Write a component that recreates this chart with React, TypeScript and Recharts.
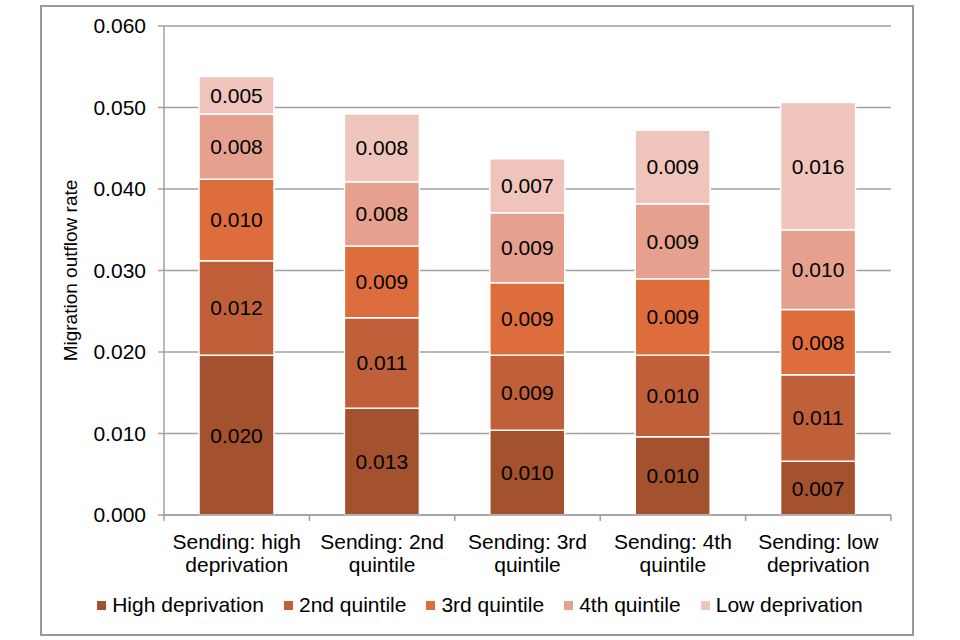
import React from 'react';
import {
  BarChart,
  Bar,
  XAxis,
  YAxis,
  CartesianGrid,
  Legend,
  LabelList,
} from 'recharts';

// categorías (eje X)
const CATEGORIES = [
  'Sending: high deprivation',
  'Sending: 2nd quintile',
  'Sending: 3rd quintile',
  'Sending: 4th quintile',
  'Sending: low deprivation',
];

// series, de abajo hacia arriba
const HIGH_DEPRIVATION = [0.0196, 0.0131, 0.0104, 0.0096, 0.0066];
const SECOND_QUINTILE = [0.0116, 0.0111, 0.0092, 0.01, 0.0106];
const THIRD_QUINTILE = [0.01, 0.0088, 0.0089, 0.0094, 0.008];
const FOURTH_QUINTILE = [0.008, 0.0079, 0.0086, 0.0092, 0.0098];
const LOW_DEPRIVATION = [0.0046, 0.0083, 0.0066, 0.009, 0.0156];

const Y_TICKS = [0, 0.01, 0.02, 0.03, 0.04, 0.05, 0.06];

const SERIES = [
  { key: 'high', name: 'High deprivation', values: HIGH_DEPRIVATION, color: '#A4512E' },
  { key: 'q2', name: '2nd quintile', values: SECOND_QUINTILE, color: '#C0603A' },
  { key: 'q3', name: '3rd quintile', values: THIRD_QUINTILE, color: '#DE6D3D' },
  { key: 'q4', name: '4th quintile', values: FOURTH_QUINTILE, color: '#E5A18E' },
  { key: 'low', name: 'Low deprivation', values: LOW_DEPRIVATION, color: '#EEC4BB' },
];

const data = CATEGORIES.map((name, i) => {
  const row: Record<string, string | number> = { name };
  SERIES.forEach((s) => {
    row[s.key] = s.values[i];
  });
  return row;
});

const W = 960;
const H = 640;
const MARGIN = { top: 26, right: 69, bottom: 20, left: 40 };
const Y_AXIS_W = 124;
const PLOT_W = W - MARGIN.left - MARGIN.right - Y_AXIS_W;
const BAND = PLOT_W / CATEGORIES.length;
const AXIS_COLOR = '#A0A0A0';
const FONT = 21;

// "Sending: high" / "deprivation"
const splitLabel = (s: string) => {
  const words = s.split(' ');
  return [words.slice(0, 2).join(' '), words.slice(2).join(' ')];
};

const CategoryTick = (props: any) => {
  const { x, y, payload, index } = props;
  const lines = splitLabel(String(payload.value));
  const half = BAND / 2;
  return (
    <g>
      <line x1={x - half} x2={x - half} y1={y} y2={y + 6} stroke={AXIS_COLOR} strokeWidth={1.5} />
      {index === CATEGORIES.length - 1 && (
        <line x1={x + half} x2={x + half} y1={y} y2={y + 6} stroke={AXIS_COLOR} strokeWidth={1.5} />
      )}
      <text x={x} y={y} textAnchor="middle" fontSize={FONT} fill="#000">
        {lines.map((l, i) => (
          <tspan key={i} x={x} dy={i === 0 ? 34 : 23}>
            {l}
          </tspan>
        ))}
      </text>
    </g>
  );
};

const LegendRow = () => (
  <div
    style={{
      height: 30,
      display: 'flex',
      justifyContent: 'center',
      alignItems: 'center',
      gap: 20,
      fontSize: FONT,
      color: '#000',
    }}
  >
    {SERIES.map((s) => (
      <span key={s.key} style={{ display: 'inline-flex', alignItems: 'center', gap: 6 }}>
        <span style={{ width: 9, height: 9, background: s.color, display: 'inline-block' }} />
        {s.name}
      </span>
    ))}
  </div>
);

export default function App() {
  return (
    <div
      style={{
        position: 'absolute',
        left: 0,
        top: 0,
        width: W,
        height: H,
        background: '#fff',
        fontFamily: '"Liberation Sans", Arial, sans-serif',
      }}
    >
      <div
        style={{
          position: 'absolute',
          left: 40,
          top: 5,
          width: 870,
          height: 627,
          border: '2px solid #999',
        }}
      />
      <BarChart width={W} height={H} data={data} margin={MARGIN} barSize={75}>
        <CartesianGrid vertical={false} stroke={AXIS_COLOR} strokeWidth={1.5} />
        <XAxis
          dataKey="name"
          interval={0}
          height={75}
          tickSize={0}
          tickMargin={0}
          tickLine={false}
          axisLine={{ stroke: AXIS_COLOR, strokeWidth: 1.5 }}
          tick={<CategoryTick />}
        />
        <YAxis
          width={Y_AXIS_W}
          domain={[0, 0.06]}
          ticks={Y_TICKS}
          tickFormatter={(v: number) => v.toFixed(3)}
          tickSize={6}
          tickMargin={12}
          tickLine={{ stroke: AXIS_COLOR, strokeWidth: 1.5 }}
          axisLine={{ stroke: AXIS_COLOR, strokeWidth: 1.5 }}
          tick={{ fill: '#000', fontSize: FONT }}
          label={{
            value: 'Migration outflow rate',
            angle: -90,
            position: 'insideLeft',
            offset: 30,
            style: { textAnchor: 'middle', fill: '#000', fontSize: 19 },
          }}
        />
        <Legend
          verticalAlign="bottom"
          wrapperStyle={{ left: 0, width: W }}
          content={() => <LegendRow />}
        />
        {SERIES.map((s) => (
          <Bar
            key={s.key}
            dataKey={s.key}
            name={s.name}
            stackId="a"
            fill={s.color}
            stroke="#fff"
            strokeWidth={1.5}
            isAnimationActive={false}
          >
            <LabelList
              dataKey={s.key}
              position="center"
              fill="#000"
              fontSize={FONT}
              formatter={(v: any) => Number(v).toFixed(3)}
            />
          </Bar>
        ))}
      </BarChart>
    </div>
  );
}
